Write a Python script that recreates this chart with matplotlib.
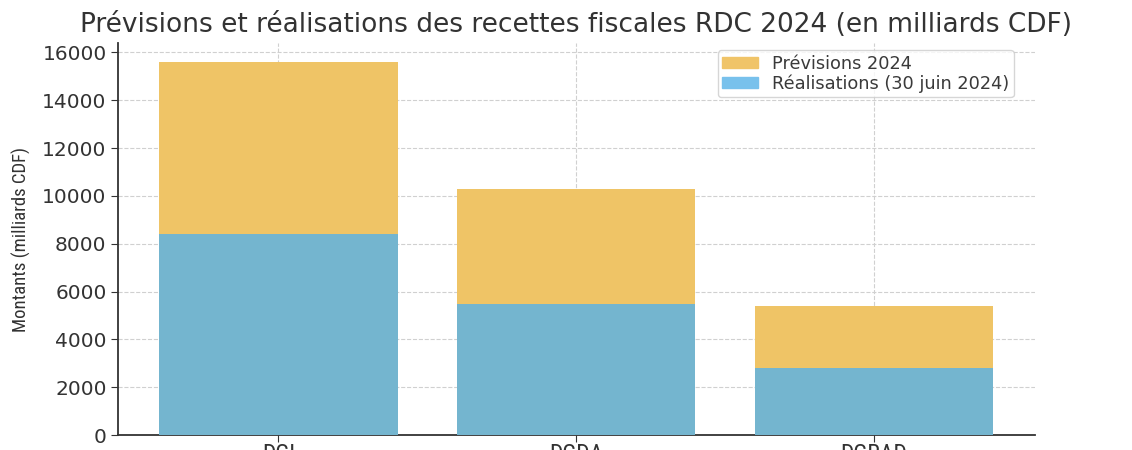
import matplotlib
matplotlib.use("Agg")
import matplotlib.pyplot as plt
from matplotlib.patches import Patch

categories = ["DGI", "DGDA", "DGRAD"]
previsions = [15600, 10300, 5400]
realisations = [8400, 5500, 2800]

plt.rcParams['font.family'] = ['DejaVu Sans']
narrow = ['Liberation Sans Narrow', 'Roboto Condensed', 'Open Sans Condensed', 'DejaVu Sans']

fig = plt.figure(figsize=(11.32, 4.5), dpi=100)
ax = fig.add_axes([0.104, 0.033, 0.81, 0.871])

c_orange = "#EFC466"
c_blue = "#74B5CF"
ax.bar(categories, previsions, width=0.8, color=c_orange, zorder=2)
ax.bar(categories, realisations, width=0.8, color=c_blue, zorder=3)

ax.grid(True, linestyle="--", color="#d0d0d0", linewidth=0.8, zorder=0)
ax.set_axisbelow(True)
for s in ["top", "right"]:
    ax.spines[s].set_visible(False)
for s in ["left", "bottom"]:
    ax.spines[s].set_color("#333333")
    ax.spines[s].set_linewidth(1.3)

ax.tick_params(axis="y", labelsize=14.5, colors="#333333", length=5, pad=3)
ax.tick_params(axis="x", labelsize=17, colors="#333333", length=5, pad=1)
for lab in ax.get_xticklabels():
    lab.set_family(narrow)
    lab.set_stretch('condensed')
ax.set_ylabel("Montants (milliards CDF)", fontsize=13.5, family=narrow,
              stretch='condensed', color="#333333", labelpad=8)

ax.set_title("Prévisions et réalisations des recettes fiscales RDC 2024 (en milliards CDF)",
             fontsize=19, color="#333333", pad=8)

handles = [Patch(color="#F0C468", label="Prévisions 2024"),
           Patch(color="#78C1EC", label="Réalisations (30 juin 2024)")]
ax.legend(handles=handles, loc="upper right", fontsize=12.8, frameon=True,
          bbox_to_anchor=(0.985, 1.0), handlelength=2.0, handleheight=0.55,
          labelspacing=0.1, borderpad=0.25, borderaxespad=0.4,
          labelcolor="#3a3a3a")

fig.savefig("out.png", dpi=100)
